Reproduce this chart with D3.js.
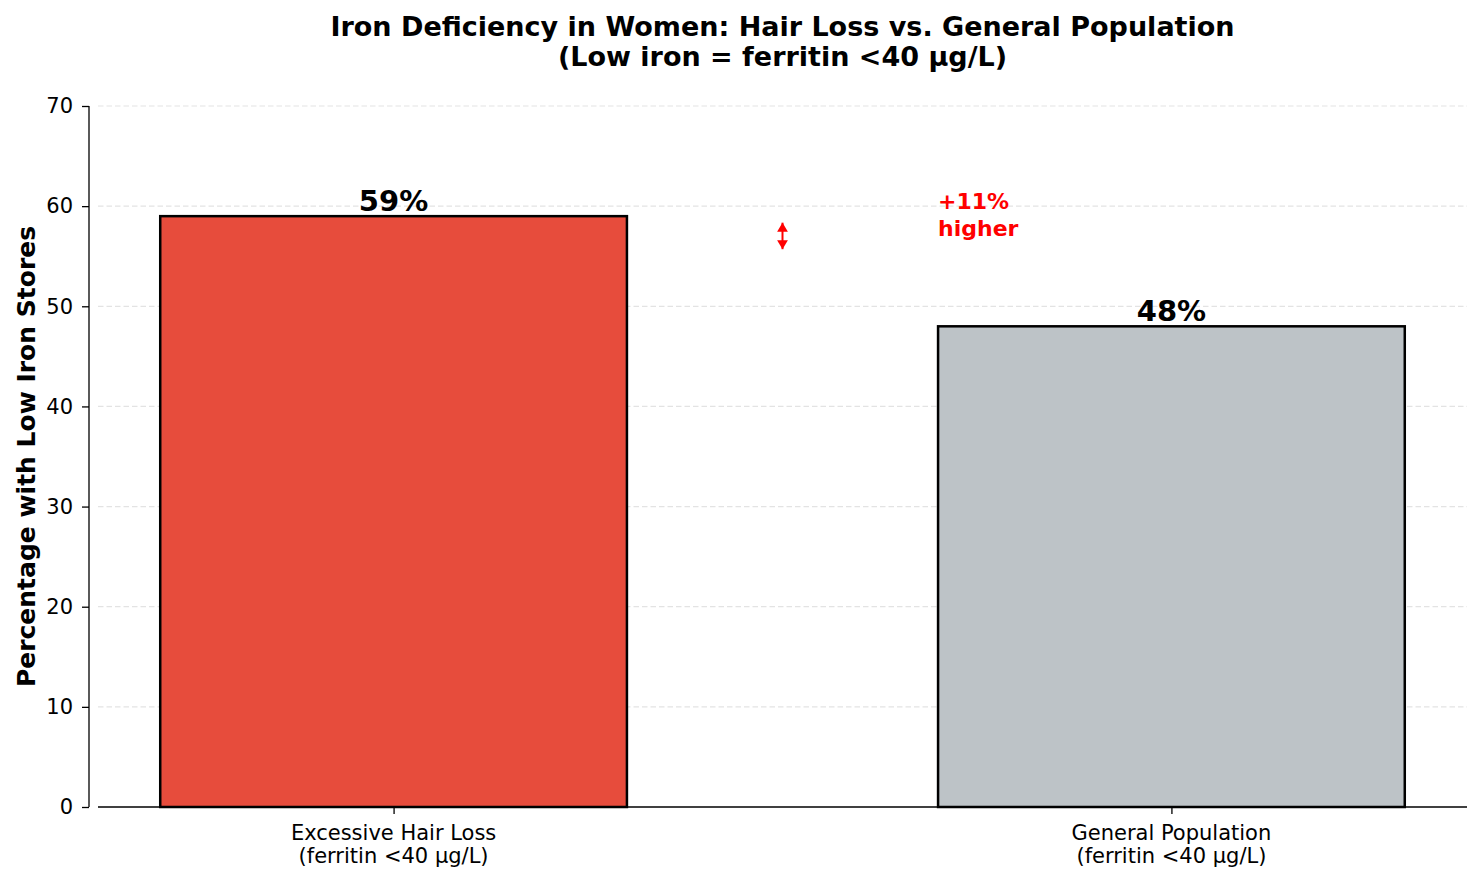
<!DOCTYPE html>
<html>
<head>
<meta charset="utf-8">
<script src="https://cdn.jsdelivr.net/npm/d3@7"></script>
<style>
  body { margin: 0; background: #fff; }
  text { font-family: "DejaVu Sans", sans-serif; }
</style>
</head>
<body>
<script>
var categories = ["Excessive Hair Loss\n(ferritin <40 µg/L)", "General Population\n(ferritin <40 µg/L)"];
var values = [59, 48];
var colors = ["#e74c3c", "#bdc3c7"];
var yTicks = [0, 10, 20, 30, 40, 50, 60, 70];
var arrowRange = [58.35, 55.7];
var diffLabel = ["+11%", "higher"];

var w = 1482, h = 880;
var mLeft = 98, mRight = 1467, mTop = 106, mBottom = 807;

var svg = d3.select("body").append("svg").attr("width", w).attr("height", h);

var x = d3.scaleLinear().domain([-0.38, 1.38]).range([mLeft, mRight]);
var y = d3.scaleLinear().domain([0, 70]).range([mBottom, mTop]);

// grid
svg.selectAll("line.grid")
  .data(yTicks.slice(1))
  .enter()
  .append("line")
  .attr("class", "grid")
  .attr("x1", mLeft).attr("x2", mRight)
  .attr("y1", function (d) { return y(d); })
  .attr("y2", function (d) { return y(d); })
  .attr("stroke", "#e3e3e3")
  .attr("stroke-dasharray", "5.5,3")
  .attr("stroke-width", 1.2);

// bars
svg.selectAll("rect.bar")
  .data(values)
  .enter()
  .append("rect")
  .attr("class", "bar")
  .attr("x", function (d, i) { return x(i - 0.3); })
  .attr("y", function (d) { return y(d); })
  .attr("width", x(0.3) - x(-0.3))
  .attr("height", function (d) { return y(0) - y(d); })
  .attr("fill", function (d, i) { return colors[i]; })
  .attr("stroke", "#000")
  .attr("stroke-width", 2.5);

// value labels
svg.selectAll("text.val")
  .data(values)
  .enter()
  .append("text")
  .attr("class", "val")
  .attr("x", function (d, i) { return x(i); })
  .attr("y", function (d) { return y(d) - 5; })
  .attr("text-anchor", "middle")
  .attr("font-size", 29)
  .attr("font-weight", "bold")
  .text(function (d) { return d + "%"; });

// y axis (spine offset outward)
var yAxis = d3.axisLeft(y).tickValues(yTicks).tickSize(7).tickPadding(9);
var gy = svg.append("g").attr("transform", "translate(" + (mLeft - 9) + ",0)").call(yAxis);
gy.select(".domain").attr("d", "M0," + mTop + "V" + mBottom).attr("stroke", "#000").attr("stroke-width", 1.3);
gy.selectAll(".tick line").attr("stroke", "#000").attr("stroke-width", 1.3);
gy.selectAll(".tick text").attr("font-size", 21).attr("fill", "#000").attr("font-family", "DejaVu Sans");

// x axis
var xAxis = d3.axisBottom(x).tickValues([0, 1]).tickSize(7).tickFormat("");
var gx = svg.append("g").attr("transform", "translate(0," + mBottom + ")").call(xAxis);
gx.select(".domain").attr("d", "M" + mLeft + ",0H" + mRight).attr("stroke", "#000").attr("stroke-width", 1.3);
gx.selectAll(".tick line").attr("stroke", "#000").attr("stroke-width", 1.3);

categories.forEach(function (c, i) {
  var lines = c.split("\n");
  var t = svg.append("text")
    .attr("x", x(i))
    .attr("y", mBottom + 33)
    .attr("text-anchor", "middle")
    .attr("font-size", 21)
    .attr("fill", "#000");
  lines.forEach(function (l, j) {
    t.append("tspan").attr("x", x(i)).attr("dy", j === 0 ? 0 : 23).text(l);
  });
});

// y label
svg.append("text")
  .attr("transform", "translate(35," + ((mTop + mBottom) / 2) + ") rotate(-90)")
  .attr("text-anchor", "middle")
  .attr("font-size", 25)
  .attr("font-weight", "bold")
  .text("Percentage with Low Iron Stores");

// title
var title = ["Iron Deficiency in Women: Hair Loss vs. General Population", "(Low iron = ferritin <40 µg/L)"];
svg.selectAll("text.title")
  .data(title)
  .enter()
  .append("text")
  .attr("class", "title")
  .attr("x", (mLeft + mRight) / 2)
  .attr("y", function (d, i) { return 36 + i * 30; })
  .attr("text-anchor", "middle")
  .attr("font-size", 27)
  .attr("font-weight", "bold")
  .text(function (d) { return d; });

// difference arrow
var ax = x(0.5);
var defs = svg.append("defs");
defs.append("marker")
  .attr("id", "head")
  .attr("viewBox", "0 0 10 12")
  .attr("refX", 10).attr("refY", 6)
  .attr("markerWidth", 4.5).attr("markerHeight", 6)
  .attr("orient", "auto-start-reverse")
  .append("path")
  .attr("d", "M0,0L10,6L0,12Z")
  .attr("fill", "red");
svg.append("line")
  .attr("x1", ax).attr("x2", ax)
  .attr("y1", y(arrowRange[0])).attr("y2", y(arrowRange[1]))
  .attr("stroke", "red")
  .attr("stroke-width", 2)
  .attr("marker-start", "url(#head)")
  .attr("marker-end", "url(#head)");

var dt = svg.append("text")
  .attr("x", x(0.7))
  .attr("y", y(59.7))
  .attr("font-size", 22)
  .attr("font-weight", "bold")
  .attr("fill", "red");
diffLabel.forEach(function (l, j) {
  dt.append("tspan").attr("x", x(0.7)).attr("dy", j === 0 ? 0 : 27).text(l);
});
</script>
</body>
</html>
